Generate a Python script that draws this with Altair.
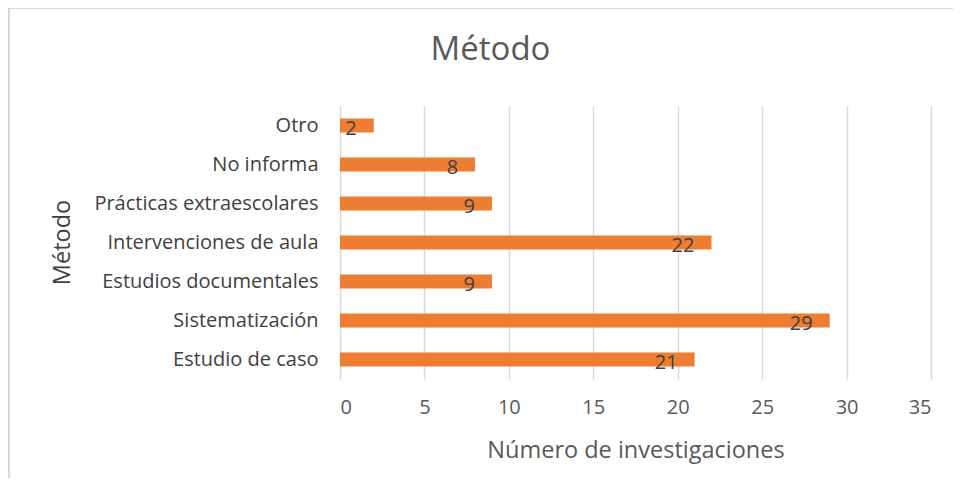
import altair as alt
import pandas as pd

categories = ["Otro", "No informa", "Prácticas extraescolares", "Intervenciones de aula",
              "Estudios documentales", "Sistematización", "Estudio de caso"]
values = [2, 8, 9, 22, 9, 29, 21]
x_ticks = [0, 5, 10, 15, 20, 25, 30, 35]

df = pd.DataFrame({"Método": categories, "n": values})

FONT = "Open Sans"
ORANGE = "#ED7D31"

base = alt.Chart(df)

ysc = alt.Scale(domain=categories, paddingInner=0, paddingOuter=0)
xsc = alt.Scale(domain=[0, 35], nice=False)

bars = base.mark_bar(color=ORANGE, size=14).encode(
    y=alt.Y("Método:N", sort=categories, scale=ysc,
            axis=alt.Axis(title="Método", ticks=False, domain=False, labelPadding=22,
                          labelFontSize=20, labelColor="#404040", labelFont=FONT,
                          labelLimit=400,
                          titleFont=FONT, titleFontSize=23.5, titleColor="#404040",
                          titleFontWeight="normal", titleX=-278, titleY=136, titleAngle=-90,
                          titleBaseline="middle", titleAlign="center")),
    x=alt.X("n:Q", scale=xsc,
            axis=alt.Axis(title="Número de investigaciones", values=x_ticks, ticks=False,
                          domain=False, grid=True, gridColor="#d9d9d9", gridWidth=1.5,
                          labelFontSize=20, labelColor="#595959", labelFont=FONT,
                          labelPadding=18, titleFont=FONT, titleFontSize=23.5,
                          titleColor="#595959", titleFontWeight="normal", titlePadding=21)),
)

labels = base.mark_text(align="right", baseline="middle", dx=-17, dy=3,
                        font=FONT, fontSize=20, color="#404040").encode(
    y=alt.Y("Método:N", sort=categories, scale=ysc),
    x=alt.X("n:Q", scale=xsc),
    text="n:Q",
)

frame = alt.Chart(pd.DataFrame({"a": [0]})).mark_rect(
    fill=None, stroke="#d9d9d9", strokeWidth=2).encode(
    x=alt.value(-331), x2=alt.value(660), y=alt.value(-98), y2=alt.value(420))

chart = alt.layer(frame, bars, labels).properties(
    width=591, height=273,
    autosize=alt.AutoSizeParams(type="none"),
    padding={"left": 332, "top": 98, "right": 22, "bottom": 99},
    title=alt.TitleParams("Método", font=FONT, fontSize=33, color="#595959",
                          fontWeight="normal", anchor="middle", dx=-145, offset=-60),
).configure_view(stroke=None)

chart.save("out.html", embed_options={"renderer": "svg", "actions": False})
